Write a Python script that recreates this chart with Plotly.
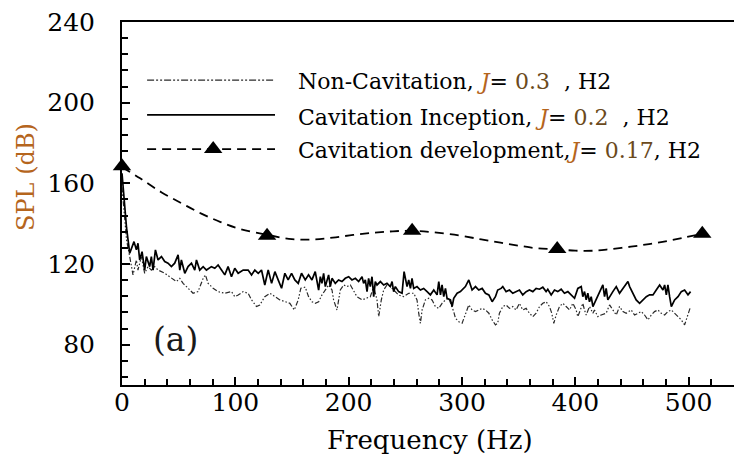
import plotly.graph_objects as go

# ---------------- data ----------------
# Cavitation Inception, J=0.2 (solid)
inc_f = [0, 2, 4, 6.8, 10.6, 12.7, 14.1, 15.6, 17.7, 20, 21.5, 24.4, 25.9, 27.4, 29.5, 31.8, 34.8, 37.7,
         40.6, 43.6, 46.5, 49.5, 51, 52.4, 55.4, 58.3, 61.3, 64.2, 65.7, 68.6, 71.6, 74.5, 78.9, 81.9,
         84.8, 87.8, 90.7, 93.6, 96.6, 99.5, 102.5, 106.9, 111.3, 114.3, 117.2, 120.2, 123.1, 126, 129,
         132, 134.9, 137.8, 140.8, 143.7, 146.6, 149.6, 152.5, 155.5, 158.4, 161.7, 164.6, 167.6, 170.5,
         173.5, 175, 176.4, 177.9, 179.4, 182.3, 183.8, 185.3, 188.2, 191.1, 194.1, 197, 200, 202.9,
         205.9, 208.8, 211.8, 213.2, 214.7, 216.2, 217.6, 219.1, 220.6, 222.1, 223.5, 225, 228, 230.9,
         233.8, 236.8, 238.3, 239.7, 241.2, 244.1, 247.1, 248.9, 251.5, 253, 254.5, 255.9, 257.4, 260.3,
         263.3, 266.2, 269.2, 272.1, 275.1, 278, 279.5, 281, 282.4, 283.9, 285.4, 286.8, 289.8, 291.3,
         292.7, 295.7, 298.6, 303, 306, 308.9, 311.9, 314.8, 317.8, 320.7, 323.7, 326.6, 329.5, 331.5,
         334.5, 336, 338.9, 341.9, 344.8, 347.7, 350.7, 353.6, 356.6, 359.5, 362.5, 365.4, 368.4, 371.3,
         374.2, 375.7, 378.7, 381.6, 384.5, 387.5, 390.4, 393.4, 396.3, 399.3, 402.2, 405.2, 406.6, 408.1,
         409.6, 411, 412.5, 414, 415.5, 418.4, 421.4, 424.3, 425.8, 427.2, 428.7, 430.2, 433.1, 436.1,
         439, 442, 444.9, 446.4, 447.9, 450.8, 453.7, 456.7, 459.6, 462.6, 465.5, 468.5, 471.4, 474.4,
         477.3, 478.8, 480.3, 481.7, 483.2, 484.7, 487.6, 490.6, 493.5, 496.4, 499.4, 501.7]
inc_spl = [165, 150, 138, 125.3, 131.1, 127, 130.3, 122, 126.1, 117, 123.7, 118.7, 123.7, 117, 127, 122,
           123.7, 121.2, 120.4, 118.7, 120.4, 124.5, 117, 122, 115.4, 118.7, 120.4, 117, 122, 117, 118.7,
           117, 118.7, 117.9, 119.5, 117, 114.6, 118.7, 113.7, 117.9, 115.4, 117, 117, 114.6, 117, 115.4,
           117, 109.6, 117, 110.4, 116.2, 112.1, 108, 115.4, 112.1, 115.4, 112.1, 110.4, 115.4, 112.1,
           114.6, 112.1, 116.2, 107.1, 113.7, 110.4, 115.4, 108.8, 114.6, 108.8, 112.9, 110.4, 112.1,
           111.3, 112.9, 113.7, 112.1, 112.9, 111.3, 113.7, 110.4, 112.1, 106.3, 112.9, 108.8, 113.7,
           103.8, 111.3, 109.6, 111.3, 109.6, 110.4, 108.8, 111.3, 106.3, 108.8, 106.3, 105.5, 116.2,
           108.8, 112.1, 107.9, 112.9, 107.9, 108.8, 107.1, 107.9, 106.3, 104.7, 107.1, 104.7, 111.3,
           104.7, 109.6, 103.8, 107.9, 103, 102.2, 98.9, 103, 105.5, 106.3, 108.8, 112.1, 107.1, 108.8,
           107.1, 107.9, 105.5, 104.7, 101.3, 103.8, 107.1, 107.9, 108.8, 106.3, 107.1, 105.5, 106.3,
           107.1, 104.7, 106.3, 107.1, 106.3, 107.9, 107.5, 108.5, 106.3, 107.5, 104.7, 107.1, 106.3,
           107.5, 105.5, 106.3, 104.7, 103, 107.9, 108.8, 103.8, 106.3, 102.2, 105.5, 101.3, 103.8, 98.9,
           102.2, 105.5, 109.6, 103.8, 107.9, 102.2, 103.8, 106.3, 108.8, 105.5, 107.9, 110.4, 111.3,
           108.8, 105.5, 102.2, 100.5, 102.2, 103.8, 104.7, 104.7, 107.1, 109.6, 107.1, 109.6, 104.7,
           109.6, 103.8, 98.9, 102.2, 103.8, 106.3, 107.1, 104.7, 106.3]

# Non-Cavitation, J=0.3 (dash-dot-dot)
non_f = [0, 2, 4, 6.8, 9.7, 12.7, 14.1, 17.1, 20, 23, 25.9, 28.9, 31.8, 37.7, 43.6, 48, 51, 53.9, 58.3,
         62.7, 67.1, 71.6, 73.6, 76, 80.4, 84.8, 90.7, 96.6, 99.5, 102.5, 106.9, 111.3, 114.3, 118.7,
         121.6, 126, 130.5, 134.9, 139.3, 143.7, 148.1, 152, 155.5, 157.8, 161.7, 164.6, 167.6, 170.5,
         173.5, 176.4, 179.4, 182.3, 185.3, 186.7, 189.7, 191.1, 192.6, 195.6, 198.5, 201.5, 204.4,
         207.3, 211.8, 216.2, 219.1, 222.1, 225, 226.5, 228.8, 230.9, 233.8, 236.8, 239.7, 244.1, 248.6,
         253, 257.4, 260.3, 261.8, 263.3, 264.8, 267.7, 270.7, 273.6, 276.5, 279.5, 282.4, 285.4, 288.3,
         291.3, 292.7, 294.2, 297.2, 300.1, 303, 306, 308.9, 311.9, 314.8, 317.8, 320.7, 323.7, 326.6,
         329.5, 331.5, 333, 336, 338.9, 341.9, 344.8, 347.7, 350.7, 353.6, 356.6, 359.5, 362.5, 365.4,
         368.4, 371.3, 374.2, 377.2, 379.2, 381, 383.1, 386, 389, 391.9, 394.9, 397.8, 400.7, 402.2,
         404.6, 406.6, 408.1, 409.6, 412.5, 415.5, 416.9, 419.9, 422.8, 427.2, 430.2, 433.1, 436.1, 439,
         442, 444.9, 449.3, 452.3, 455.2, 458.2, 461.1, 464.1, 467, 469.9, 472.9, 475.8, 478.8, 481.7,
         484.7, 487.6, 490.6, 493.5, 496.4, 499.4, 501.7]
non_spl = [158, 145, 132, 123.7, 114.6, 122, 117, 123.7, 115.4, 118.7, 117, 118.7, 117, 115.4, 112.9,
           111.3, 112.9, 110.4, 108, 105.5, 106.3, 112.9, 114.6, 110.4, 108, 106.3, 105.5, 106.3, 103.8,
           104.6, 106.3, 105.5, 102.2, 98.9, 99.7, 103.8, 105.5, 103.8, 102.2, 101.4, 100.5, 97.2, 102.2,
           108, 108.5, 103.8, 101.3, 100.5, 101.3, 104.6, 107.1, 109.6, 107.1, 102.2, 97.2, 102.2, 107.1,
           109.6, 108.8, 109.6, 106.3, 103.8, 102.2, 103, 103.8, 108.8, 102.2, 93.9, 102.2, 107.1, 109.6,
           108.8, 107.1, 104.6, 103.8, 105.5, 105.5, 102.2, 95.6, 90.6, 97.2, 102.2, 103, 102.2, 98.9,
           98, 100.5, 102.2, 103, 98.9, 96.4, 93.1, 91.4, 90.6, 95.6, 99.7, 97.2, 96.4, 97.2, 98, 97.2,
           95.6, 92.3, 89.8, 90.6, 95.6, 98.9, 99.7, 98, 98.9, 97.2, 100.5, 97.2, 98, 95.6, 93.9, 95.6,
           98.9, 100.5, 101.3, 98.9, 95.6, 90.6, 94.7, 98.9, 100.5, 98.9, 97.2, 100.5, 97.2, 93.9, 97.2,
           100.5, 97.2, 94.7, 98.9, 95.6, 97.2, 93.9, 94.7, 95.6, 99.7, 97.2, 94.7, 98.9, 96.4, 95.6, 97.2,
           94.7, 95.6, 96.4, 94.7, 92.3, 94.7, 96.4, 97.2, 95.6, 94.7, 96.4, 97.2, 95.6, 93.9, 92.3, 89.8,
           95.6, 98.9]

# Cavitation development, J=0.17 (dashed) and its triangle markers
dev_f = [0, 16, 35, 53, 70, 87, 104, 128, 150, 169, 186, 204, 222, 239, 256, 274, 297, 317, 334, 351,
         366, 384, 400, 416, 431, 449, 465, 481, 497, 512]
dev_spl = [168, 162.5, 155.5, 150, 145, 140.8, 137.4, 134.5, 132.3, 132.2, 133.1, 134.4, 135.5, 136.2,
           136.5, 135.8, 134.2, 132.2, 130.6, 129, 127.8, 127.3, 126.6, 126.6, 127.4, 128.6, 129.9, 131.4,
           133.2, 135]
mark_f = [0, 128, 256, 384, 512]
mark_spl = [168.5, 134, 136.5, 127.5, 135]

x_ticks = [0, 100, 200, 300, 400, 500]
y_ticks = [80, 120, 160, 200, 240]

names = ["Non-Cavitation, ", "Cavitation Inception, ", "Cavitation development,"]
j_vals = ["0.3", "0.2", "0.17"]
j_pad = ["\u00a0\u00a0, H2", "\u00a0\u00a0, H2", ", H2"]

# ---------------- styles ----------------
FONT = "DejaVu Serif"
ORANGE = "#b5651d"
DASHDOT = "5px,2px,1.5px,2px,1.5px,2px"
DASH = "9px,6px"

fig = go.Figure()
fig.add_trace(go.Scatter(x=non_f, y=non_spl, mode="lines",
                         line=dict(color="#2a2a2a", width=1.2, dash=DASHDOT), showlegend=False))
fig.add_trace(go.Scatter(x=inc_f, y=inc_spl, mode="lines",
                         line=dict(color="black", width=1.7), showlegend=False))
fig.add_trace(go.Scatter(x=dev_f, y=dev_spl, mode="lines",
                         line=dict(color="black", width=1.8, dash=DASH, shape="spline"),
                         showlegend=False))
fig.add_trace(go.Scatter(x=mark_f, y=mark_spl, mode="markers",
                         marker=dict(symbol="triangle-up", size=16, color="black"),
                         showlegend=False, cliponaxis=False))

# ---- custom legend glyphs (overlay axes spanning 0..1) ----
leg_x0, leg_x1, leg_xm = 0.041, 0.250, 0.149
leg_rows = [0.840, 0.744, 0.650]
leg_styles = [dict(color="#2a2a2a", width=1.4, dash="7px,2px,2px,2px,2px,2px"),
              dict(color="black", width=1.8),
              dict(color="black", width=1.8, dash="9px,6px")]
for yy, st in zip(leg_rows, leg_styles):
    fig.add_trace(go.Scatter(x=[leg_x0, leg_x1], y=[yy, yy], mode="lines", line=st,
                             xaxis="x2", yaxis="y2", showlegend=False, hoverinfo="skip"))
fig.add_trace(go.Scatter(x=[leg_xm], y=[leg_rows[2]], mode="markers",
                         marker=dict(symbol="triangle-up", size=16, color="black"),
                         xaxis="x2", yaxis="y2", showlegend=False, hoverinfo="skip"))

annotations = []
text_y = [0.835, 0.738, 0.645]
for nm, jv, tail, yy in zip(names, j_vals, j_pad, text_y):
    txt = (f"{nm}<span style='color:{ORANGE}'><i>J</i></span>= "
           f"<span style='color:#6b4a1c'>{jv}</span>{tail}")
    annotations.append(dict(x=0.2843, y=yy, xref="paper", yref="paper", text=txt,
                            showarrow=False, xanchor="left", yanchor="middle",
                            font=dict(family=FONT, size=22, color="black")))

annotations.append(dict(x=0.503, y=-0.1515, xref="paper", yref="paper", text="Frequency (Hz)",
                        showarrow=False, xanchor="center", yanchor="middle",
                        font=dict(family=FONT, size=26, color="black")))
annotations.append(dict(x=-0.1569, y=0.573, xref="paper", yref="paper", text="SPL (dB)",
                        showarrow=False, xanchor="center", yanchor="middle", textangle=-90,
                        font=dict(family=FONT, size=24, color=ORANGE)))
annotations.append(dict(x=0.0874, y=0.124, xref="paper", yref="paper", text="(a)",
                        showarrow=False, xanchor="center", yanchor="middle",
                        font=dict(family=FONT, size=33, color="#1a1a1a")))

fig.update_layout(
    width=734, height=463,
    margin=dict(l=122, r=0, t=22, b=78),
    paper_bgcolor="white", plot_bgcolor="white",
    font=dict(family=FONT, size=25, color="black"),
    annotations=annotations,
    xaxis=dict(range=[0, 540], tickvals=x_ticks, ticks="inside", ticklen=8, tickwidth=2,
               tickcolor="black", showline=True, linewidth=2, linecolor="black", mirror=True,
               showgrid=False, zeroline=False, ticklabelstandoff=-6,
               minor=dict(dtick=20, ticks="inside", ticklen=6, tickwidth=1.5, tickcolor="black",
                          showgrid=False),
               tickfont=dict(family=FONT, size=25, color="black")),
    yaxis=dict(range=[60, 240], tickvals=y_ticks, ticks="inside", ticklen=8, tickwidth=2,
               tickcolor="black", showline=True, linewidth=2, linecolor="black", mirror=False,
               showgrid=False, zeroline=False, ticklabelstandoff=20,
               minor=dict(dtick=8, tick0=0, ticks="inside", ticklen=6, tickwidth=1.5,
                          tickcolor="black", showgrid=False),
               tickfont=dict(family=FONT, size=25, color="black")),
    xaxis2=dict(range=[0, 1], overlaying="x", visible=False),
    yaxis2=dict(range=[0, 1], overlaying="y", visible=False),
    showlegend=False,
)

fig.write_html("out.html")
